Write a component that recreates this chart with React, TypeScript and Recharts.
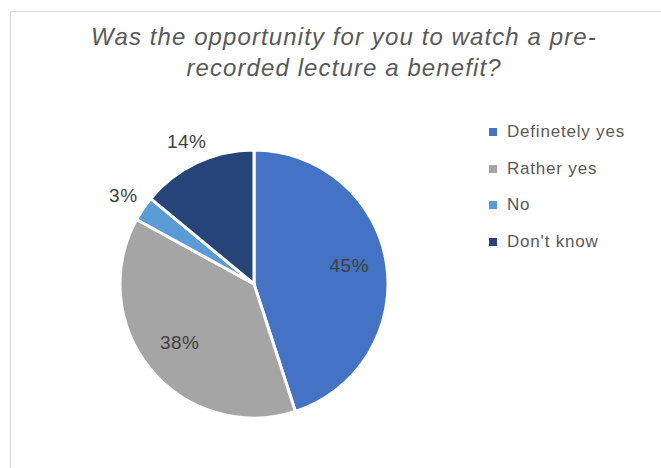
import React from 'react';
import { PieChart, Pie, Cell } from 'recharts';

const categories = ['Definetely yes', 'Rather yes', 'No', "Don't know"];
const shares = [45, 38, 3, 14];
const colors = ['#4472C4', '#A5A5A5', '#5B9BD5', '#264478'];
const titleLines = ['Was the opportunity for you to watch a pre-', 'recorded lecture a benefit?'];

const data = categories.map((name, i) => ({ name, value: shares[i] }));
const RAD = Math.PI / 180;

function renderLabel(props: any) {
  const { cx, cy, midAngle, outerRadius, value } = props;
  const inside = value >= 20;
  const r = inside ? outerRadius * 0.72 : outerRadius + 24;
  const x = cx + r * Math.cos(-midAngle * RAD);
  const y = cy + r * Math.sin(-midAngle * RAD) + (inside ? -3 : 0);
  return (
    <text x={x} y={y} fill="#404040" fontSize={19} letterSpacing={0.5} textAnchor="middle" dominantBaseline="central"
      fontFamily="'Liberation Sans', Arial, sans-serif">
      {value}%
    </text>
  );
}

export default function App() {
  return (
    <div style={{ position: 'absolute', left: 0, top: 0, width: 661, height: 468, background: '#fff', overflow: 'hidden' }}>
      <div style={{ position: 'absolute', left: 10, top: 11, width: 700, height: 500, border: '1.5px solid #d9d9d9' }} />
      <div style={{ position: 'absolute', left: 0, top: 21, width: 688, textAlign: 'center', fontFamily: "'Liberation Sans', Arial, sans-serif", fontStyle: 'italic', fontSize: 24, letterSpacing: 1.1, lineHeight: '31px', color: '#595959' }}>
        {titleLines.map((t) => <div key={t}>{t}</div>)}
      </div>
      <div style={{ position: 'absolute', left: 0, top: 0 }}>
        <PieChart width={661} height={468} margin={{ top: 0, right: 0, bottom: 0, left: 0 }}>
          <Pie data={data} dataKey="value" nameKey="name" cx={254} cy={284} outerRadius={134}
            startAngle={90} endAngle={-270} stroke="#fff" strokeWidth={3}
            label={renderLabel} labelLine={false} isAnimationActive={false}>
            {data.map((d, i) => <Cell key={d.name} fill={colors[i]} />)}
          </Pie>
        </PieChart>
      </div>
      <div style={{ position: 'absolute', left: 489, top: 114, fontFamily: "'Liberation Sans', Arial, sans-serif", fontSize: 17, letterSpacing: 0.8, color: '#595959' }}>
        {categories.map((c, i) => (
          <div key={c} style={{ display: 'flex', alignItems: 'center', height: 36.5 }}>
            <span style={{ width: 8, height: 8, background: colors[i], marginRight: 10 }} />
            <span>{c}</span>
          </div>
        ))}
      </div>
    </div>
  );
}
